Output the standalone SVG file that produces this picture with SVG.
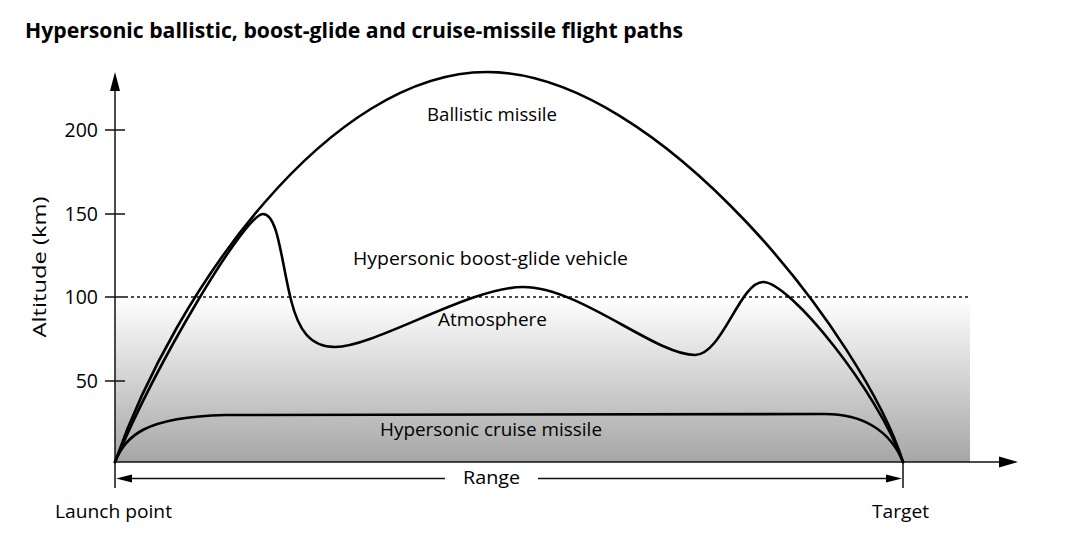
<svg xmlns="http://www.w3.org/2000/svg" width="1066" height="547" viewBox="0 0 1066 547">
  <defs>
    <linearGradient id="atmo" x1="0" y1="0" x2="0" y2="1">
      <stop offset="0" stop-color="#ffffff"/>
      <stop offset="1" stop-color="#a6a6a6"/>
    </linearGradient>
    <style>
      .lbl { font-family: "Open Sans", "Liberation Sans", sans-serif; font-size: 19px; fill: #000; }
      .tick { font-family: "Open Sans", "Liberation Sans", sans-serif; font-size: 19.5px; fill: #000; text-anchor: end; }
      .axis { stroke: #111; stroke-width: 1.5; fill: none; }
      .path { stroke: #000; stroke-width: 2.6; fill: none; stroke-linejoin: round; stroke-linecap: round; }
      .head { fill: #000; }
    </style>
  </defs>
  <rect width="1066" height="547" fill="#ffffff"/>

  <text id="title" x="25" y="38" font-family="'Open Sans', 'Liberation Sans', sans-serif" font-size="21" font-weight="700" fill="#000" textLength="658" lengthAdjust="spacingAndGlyphs">Hypersonic ballistic, boost-glide and cruise-missile flight paths</text>

  <g id="atmosphere">
    <rect x="115" y="297" width="855" height="165" fill="url(#atmo)"/>
    <line x1="125" y1="297" x2="970" y2="297" stroke="#111" stroke-width="1.5" stroke-dasharray="3,3"/>
  </g>

  <g id="axes">
    <line class="axis" x1="115" y1="90" x2="115" y2="488"/>
    <polygon class="head" points="115,72 110,91 120,91"/>
    <line class="axis" x1="115" y1="462" x2="1000" y2="462"/>
    <polygon class="head" points="1018,462 999,456.5 999,467.5"/>
    <line class="axis" x1="903" y1="462" x2="903" y2="488"/>
    <line class="axis" x1="105" y1="130" x2="125" y2="130"/>
    <line class="axis" x1="105" y1="214" x2="125" y2="214"/>
    <line class="axis" x1="105" y1="297" x2="125" y2="297"/>
    <line class="axis" x1="105" y1="381" x2="125" y2="381"/>
    <text class="tick" x="98" y="137">200</text>
    <text class="tick" x="98" y="221">150</text>
    <text class="tick" x="98" y="304">100</text>
    <text class="tick" x="98" y="388">50</text>
    <text class="lbl" transform="translate(46,267) rotate(-90)" text-anchor="middle" textLength="141" lengthAdjust="spacingAndGlyphs">Altitude (km)</text>
  </g>

  <g id="range">
    <line class="axis" x1="128" y1="478.5" x2="445" y2="478.5"/>
    <line class="axis" x1="538" y1="478.5" x2="890" y2="478.5"/>
    <polygon class="head" points="116,478.5 132,474.5 132,482.5"/>
    <polygon class="head" points="902,478.5 886,474.5 886,482.5"/>
    <text class="lbl" x="463" y="484" textLength="57" lengthAdjust="spacingAndGlyphs">Range</text>
  </g>

  <g id="connectors">
    <path id="ballistic" class="path" d="M115,462 C175,290 330,72 487,72 C660,72 865,340 903,462"/>
    <path id="boost-glide" class="path" d="M115,462 C158,360 245,214 263,214 C278,214 281,260 291,300 C298.5,330 310,347 335,347 C375,347 470,287 523,287 C580,287 655,355 695,355 C722,355 740,282 763,282 C790,282 878,392 903,462"/>
    <path id="cruise" class="path" d="M115,462 C125,436 145,417 225,415 L825,414 C862,414 890,430 903,462"/>
  </g>

  <g id="labels">
    <text class="lbl" x="427" y="121" textLength="130" lengthAdjust="spacingAndGlyphs">Ballistic missile</text>
    <text class="lbl" x="353" y="265" textLength="275" lengthAdjust="spacingAndGlyphs">Hypersonic boost-glide vehicle</text>
    <text class="lbl" x="438" y="326" textLength="109" lengthAdjust="spacingAndGlyphs">Atmosphere</text>
    <text class="lbl" x="380" y="436" textLength="222" lengthAdjust="spacingAndGlyphs">Hypersonic cruise missile</text>
    <text class="lbl" x="55" y="518" textLength="117" lengthAdjust="spacingAndGlyphs">Launch point</text>
    <text class="lbl" x="872" y="518" textLength="57" lengthAdjust="spacingAndGlyphs">Target</text>
  </g>
</svg>
